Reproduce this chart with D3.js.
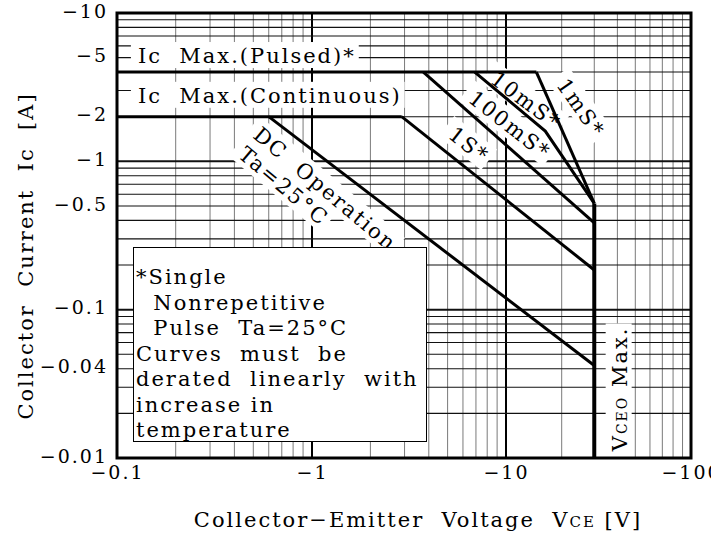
<!DOCTYPE html>
<html>
<head>
<meta charset="utf-8">
<script src="https://cdn.jsdelivr.net/npm/d3@7"></script>
<style>
  body { margin: 0; background: #fff; }
  svg { display: block; }
  text { font-family: "DejaVu Serif", serif; fill: #000; white-space: pre; }
</style>
</head>
<body>
<div id="chart"></div>
<script>
// Safe operating area, magnitudes of Vce [V] and Ic [A] (signs added in the labels)
const icPulsed     = [[0.1, 4], [14.6, 4]];
const icContinuous = [[0.1, 2], [2.9, 2]];
const dcOperation  = [[0.6, 2], [30, 0.042]];
const pulse1s      = [[2.9, 2], [30, 0.185]];
const pulse100ms   = [[3.75, 4], [30, 0.385]];
const pulse10ms    = [[6.9, 4], [16.3, 1.6], [30, 0.52]];
const pulse1ms     = [[14.6, 4], [30, 0.52]];
const vceoMax      = [[30, 0.52], [30, 0.01]];

const xTickValues = [0.1, 1, 10, 100];
const xTickLabels = ['−0.1', '−1', '−10', '−100'];
const yTickValues = [10, 5, 2, 1, 0.5, 0.1, 0.04, 0.01];
const yTickLabels = ['−10', '−5', '−2', '−1', '−0.5', '−0.1', '−0.04', '−0.01'];

const noteLines = ['*Single', '  Nonrepetitive', '  Pulse  Ta=25°C', 'Curves  must  be',
                   'derated  linearly  with', 'increase in', 'temperature'];

const width = 711, height = 536;
const plot = { left: 117, right: 691, top: 13, bottom: 458 };

const svg = d3.select('#chart').append('svg')
    .attr('width', width)
    .attr('height', height);

// The scanned sheet has uneven decades on x, so use a piecewise log scale
const x = d3.scaleLog()
    .domain([0.1, 1, 10, 100])
    .range([plot.left, 312, 506, plot.right]);

const y = d3.scaleLog()
    .domain([0.01, 10])
    .range([plot.bottom, plot.top]);

const isDecade = v => Math.abs(Math.log10(v) - Math.round(Math.log10(v))) < 1e-9;

// Grid values: 1..9 in every decade
const gridX = [], gridY = [];
[0.1, 1, 10].forEach(d => { for (let k = 1; k < 10; k++) gridX.push(+(k * d).toPrecision(3)); });
[0.01, 0.1, 1].forEach(d => { for (let k = 1; k < 10; k++) gridY.push(+(k * d).toPrecision(3)); });

const grid = svg.append('g').attr('class', 'grid');

grid.selectAll('line.v')
    .data(gridX.filter(v => v > 0.1))
    .join('line')
    .attr('class', 'v')
    .attr('x1', d => x(d)).attr('x2', d => x(d))
    .attr('y1', plot.top).attr('y2', plot.bottom)
    .attr('stroke', d => isDecade(d) ? '#000' : '#7a7a7a')
    .attr('stroke-width', d => isDecade(d) ? 2 : 1);

grid.selectAll('line.h')
    .data(gridY.filter(v => v > 0.01))
    .join('line')
    .attr('class', 'h')
    .attr('x1', plot.left).attr('x2', plot.right)
    .attr('y1', d => y(d)).attr('y2', d => y(d))
    .attr('stroke', '#111')
    .attr('stroke-width', d => isDecade(d) ? 2 : 1.1);

// Layers: label backgrounds sit over the grid but under the curves
const bgLayer = svg.append('g').attr('class', 'label-bg');
const curveLayer = svg.append('g').attr('class', 'curves');
const textLayer = svg.append('g').attr('class', 'labels');

const line = d3.line().x(d => x(d[0])).y(d => y(d[1]));

[icPulsed, icContinuous, dcOperation, pulse1s, pulse100ms, pulse10ms, pulse1ms].forEach(s => {
    curveLayer.append('path')
        .attr('d', line(s))
        .attr('fill', 'none')
        .attr('stroke', '#000')
        .attr('stroke-width', 3)
        .attr('stroke-linejoin', 'miter');
});

curveLayer.append('path')
    .attr('d', line(vceoMax))
    .attr('fill', 'none')
    .attr('stroke', '#000')
    .attr('stroke-width', 4);

// Frame
svg.append('rect')
    .attr('x', plot.left).attr('y', plot.top)
    .attr('width', plot.right - plot.left)
    .attr('height', plot.bottom - plot.top)
    .attr('fill', 'none')
    .attr('stroke', '#000')
    .attr('stroke-width', 3);

// Curve labels, anchored in data space; parts between '|' are small caps
const annotations = [
    { text: 'Ic  Max.(Pulsed)*',     at: [0.128, 4.6],   angle: 0 },
    { text: 'Ic  Max.(Continuous)',  at: [0.128, 2.48],  angle: 0 },
    { text: 'DC  Operation',         at: [0.492, 1.46],  angle: 40 },
    { text: 'Ta=25°C',               at: [0.412, 1.08],  angle: 40 },
    { text: '1S*',                   at: [4.96, 1.46],   angle: 38 },
    { text: '100mS*',                at: [6.3, 2.55],    angle: 38 },
    { text: '10mS*',                 at: [8.17, 3.43],   angle: 37 },
    { text: '1mS*',                  at: [18.6, 3.27],   angle: 55 },
    { text: 'V|CEO| Max.',           at: [44.9, 0.0111], angle: -90 }
];

function addParts(t, str, big, small) {
    str.split('|').forEach((p, i) => {
        t.append('tspan')
            .attr('font-size', i % 2 ? small : big)
            .text(p);
    });
}

annotations.forEach(a => {
    const tx = `translate(${x(a.at[0])},${y(a.at[1])}) rotate(${a.angle})`;
    const t = textLayer.append('text')
        .attr('transform', tx)
        .style('letter-spacing', '2px');
    addParts(t, a.text, 21, 14);
    const bb = t.node().getBBox();
    bgLayer.append('rect')
        .attr('transform', tx)
        .attr('x', bb.x - 7).attr('y', bb.y - 2)
        .attr('width', bb.width + 10).attr('height', bb.height + 2)
        .attr('fill', '#fff');
});

// Note box
const note = svg.append('g').attr('class', 'note');
note.append('rect')
    .attr('x', 133.5).attr('y', 247.5)
    .attr('width', 293).attr('height', 194)
    .attr('fill', '#fff')
    .attr('stroke', '#000')
    .attr('stroke-width', 1);

note.selectAll('text')
    .data(noteLines)
    .join('text')
    .attr('x', 136)
    .attr('y', (d, i) => 284 + i * 25.5)
    .attr('font-size', 21)
    .style('letter-spacing', '2px')
    .text(d => d);

// Axes (labels only, the frame and grid are drawn above)
const xAxis = svg.append('g')
    .attr('transform', `translate(0,${plot.bottom})`)
    .call(d3.axisBottom(x)
        .tickValues(xTickValues)
        .tickFormat((d, i) => xTickLabels[i])
        .tickSize(0)
        .tickPadding(8));

const yAxis = svg.append('g')
    .attr('transform', `translate(${plot.left},0)`)
    .call(d3.axisLeft(y)
        .tickValues(yTickValues)
        .tickFormat((d, i) => yTickLabels[i])
        .tickSize(0)
        .tickPadding(9));

[xAxis, yAxis].forEach(g => {
    g.select('.domain').remove();
    g.attr('font-family', null).attr('font-size', null);
    g.selectAll('text')
        .attr('font-size', 19)
        .style('letter-spacing', '2px');
});

// y labels sit a touch above their grid line on the sheet
yAxis.selectAll('text').attr('dy', '0.22em');

// Axis titles
const xTitle = svg.append('text')
    .attr('x', 418)
    .attr('y', 527)
    .attr('text-anchor', 'middle')
    .style('letter-spacing', '2px');
addParts(xTitle, 'Collector−Emitter  Voltage  V|CE| [V]', 21, 15);

svg.append('text')
    .attr('transform', 'translate(33,256) rotate(-90)')
    .attr('text-anchor', 'middle')
    .attr('font-size', 21)
    .style('letter-spacing', '2px')
    .text('Collector  Current  Ic  [A]');
</script>
</body>
</html>
